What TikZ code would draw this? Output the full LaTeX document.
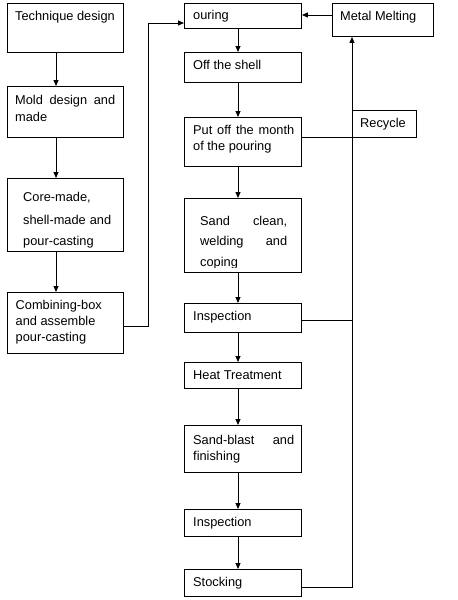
\documentclass[tikz,border=0pt]{standalone}
\usepackage{fontspec}
\setmainfont{Liberation Sans}
\usetikzlibrary{arrows.meta}
\begin{document}
\begin{tikzpicture}[x=1pt,y=-1pt,
  box/.style={draw, line width=0.9pt, inner sep=0pt, anchor=north west},
  txt/.style={anchor=base west, inner sep=0pt, font=\fontsize{12.8}{15}\selectfont},
  arr/.style={line width=0.9pt, -{Triangle[length=6pt,width=5pt]}},
  conn/.style={line width=0.9pt}]
\useasboundingbox (0,0) rectangle (458,600);
\fill[white] (0,0) rectangle (458,600);
\newcommand\bx[5]{\node[box, minimum width=#4pt, minimum height=#5pt] (#1) at (#2,#3) {};}
\newcommand\tline[4]{\node[txt] (#1) at (#2,#3) {#4};}
% boxes
\bx{tech}{7}{3}{116}{49}
\bx{mold}{7}{86}{116}{51}
\bx{core}{7}{178}{116}{73}
\bx{comb}{7}{292}{116}{61}
\bx{pour}{184}{3}{117}{25}
\bx{shell}{184}{52}{117}{30}
\bx{put}{184}{117}{117}{49}
\bx{sand}{184}{198}{117}{74}
\bx{insp1}{184}{303}{117}{29}
\bx{heat}{184}{362}{117}{26}
\bx{blast}{184}{425}{117}{47}
\bx{insp2}{184}{509}{117}{27}
\bx{stock}{184}{569}{117}{27}
\bx{metal}{332}{3}{101}{33}
\bx{recycle}{352}{110}{64}{27}
% texts
\tline{t1}{15}{20}{Technique design}
\tline{t2a}{15}{104}{\hbox to 100pt{Mold\hfill design\hfill and}}
\tline{t2b}{15}{121}{made}
\tline{t3a}{23}{201.5}{Core-made,}
\tline{t3b}{23}{224.5}{\hbox to 88pt{shell-made\hfill and}}
\begin{scope}
\clip (7,178) rectangle (123,247);
\tline{t3c}{23}{245}{pour-casting}
\end{scope}
\tline{t4a}{15.5}{309}{Combining-box}
\tline{t4b}{15.5}{325.5}{and assemble}
\tline{t4c}{15.5}{341.5}{pour-casting}
\tline{t5}{193}{19.5}{ouring}
\tline{t6}{193}{69}{Off the shell}
\tline{t7a}{193}{134}{\hbox to 101pt{Put\hfill off\hfill the\hfill month}}
\tline{t7b}{193}{150.5}{of the pouring}
\tline{t8a}{200}{225}{\hbox to 87pt{Sand\hfill clean,}}
\tline{t8b}{200}{245.5}{\hbox to 87pt{welding\hfill and}}
\begin{scope}
\clip (184,198) rectangle (301,267.5);
\tline{t8c}{200}{266}{coping}
\end{scope}
\tline{t9}{193}{320.5}{Inspection}
\tline{t10}{193}{379}{Heat Treatment}
\tline{t11a}{193}{444}{\hbox to 101pt{Sand-blast\hfill and}}
\tline{t11b}{193}{460}{finishing}
\tline{t12}{193}{526.5}{Inspection}
\tline{t13}{193}{586.5}{Stocking}
\tline{t14}{340}{20}{Metal Melting}
\tline{t15}{360}{127.5}{Recycle}
% helper coordinates
\coordinate (cl) at (56,0);
\coordinate (cm) at (238,0);
\coordinate (cr) at (352,0);
\coordinate (cj) at (148,23);
\coordinate (cmm) at (0,15);
% left column
\draw[arr] (tech.south -| cl) -- (mold.north -| cl);
\draw[arr] (mold.south -| cl) -- (core.north -| cl);
\draw[arr] (core.south -| cl) -- (comb.north -| cl);
\draw[arr] ([yshift=-3.5pt]comb.east) -| (cj) -- (cj -| pour.west);
% middle column
\draw[arr] (pour.south -| cm) -- (shell.north -| cm);
\draw[arr] (shell.south -| cm) -- (put.north -| cm);
\draw[arr] (put.south -| cm) -- (sand.north -| cm);
\draw[arr] (sand.south -| cm) -- (insp1.north -| cm);
\draw[arr] (insp1.south -| cm) -- (heat.north -| cm);
\draw[arr] (heat.south -| cm) -- (blast.north -| cm);
\draw[arr] (blast.south -| cm) -- (insp2.north -| cm);
\draw[arr] (insp2.south -| cm) -- (stock.north -| cm);
% metal melting
\draw[arr] (metal.west |- cmm) -- (pour.east |- cmm);
% recycle
\draw[arr] ([yshift=-4.5pt]stock.east) -| (metal.south -| cr);
\draw[conn] ([yshift=4.5pt]put.east) coordinate (pe) -- (pe -| cr);
\draw[conn] ([yshift=-2.5pt]insp1.east) coordinate (ie) -- (ie -| cr);
\end{tikzpicture}
\end{document}
